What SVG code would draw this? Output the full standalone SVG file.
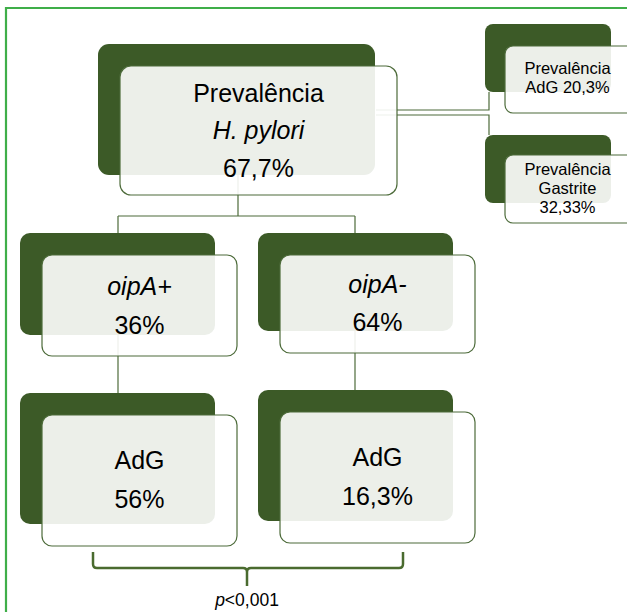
<svg xmlns="http://www.w3.org/2000/svg" width="627" height="612" viewBox="0 0 627 612">
<style>
.dark{fill:#3c5a27}
.light{fill:#ffffff;fill-opacity:0.9;stroke:#4d6b3a;stroke-width:1.2}
.conn{fill:none;stroke:#4d6b3a;stroke-width:1.2}
.t{font-family:"Liberation Sans",Arial,sans-serif;fill:#000;text-anchor:middle}
.big{font-size:25px}
.small{font-size:16.5px}
.it{font-style:italic}
</style>
<rect width="627" height="612" fill="#ffffff"/>
<path d="M6 612 V8 H627" fill="none" stroke="#3fae49" stroke-width="2.2"/>
<g id="connectors">
<path class="conn" d="M238 175 V216 M118 216 H355 M118 216 V233 M355 216 V233"/>
<path class="conn" d="M376 110 H489 V92"/>
<path class="conn" d="M376 115 H489 V135"/>
<path class="conn" d="M118 335 V393"/>
<path class="conn" d="M355 331 V390"/>
<path d="M93 552 V564 Q93 568 97 568 H243 Q247 568 247 572 V586 M247 572 Q247 568 251 568 H399 Q403 568 403 564 V552" fill="none" stroke="#4a6b2f" stroke-width="2.5"/>
</g>
<g id="node-main">
<rect class="dark" x="98" y="44" width="277" height="131" rx="11"/>
<rect class="light" x="120" y="66" width="277" height="129" rx="11"/>
<text class="t big" x="258.5" y="102">Prevalência</text>
<text class="t big it" x="258.5" y="139">H. pylori</text>
<text class="t big" x="258.5" y="177">67,7%</text>
</g>
<g id="node-adg-prev">
<rect class="dark" x="485" y="24" width="126" height="68" rx="8"/>
<rect class="light" x="505" y="46" width="130" height="67" rx="8"/>
<text class="t small" x="567.5" y="74">Prevalência</text>
<text class="t small" x="567.5" y="93">AdG 20,3%</text>
</g>
<g id="node-gastrite">
<rect class="dark" x="485" y="135" width="126" height="68" rx="8"/>
<rect class="light" x="505" y="155" width="130" height="68" rx="8"/>
<text class="t small" x="567.5" y="175">Prevalência</text>
<text class="t small" x="567.5" y="194">Gastrite</text>
<text class="t small" x="567.5" y="213">32,33%</text>
</g>
<g id="node-oipa-pos">
<rect class="dark" x="20" y="233" width="195" height="102" rx="10"/>
<rect class="light" x="42" y="255" width="195" height="101" rx="10"/>
<text class="t big it" x="139.5" y="295">oipA+</text>
<text class="t big" x="139.5" y="334">36%</text>
</g>
<g id="node-oipa-neg">
<rect class="dark" x="258" y="233" width="195" height="98" rx="10"/>
<rect class="light" x="280" y="255" width="195" height="98" rx="10"/>
<text class="t big it" x="377.5" y="293">oipA-</text>
<text class="t big" x="377.5" y="331">64%</text>
</g>
<g id="node-adg-pos">
<rect class="dark" x="20" y="393" width="195" height="131" rx="10"/>
<rect class="light" x="42" y="415" width="195" height="131" rx="10"/>
<text class="t big" x="139.5" y="469">AdG</text>
<text class="t big" x="139.5" y="508">56%</text>
</g>
<g id="node-adg-neg">
<rect class="dark" x="258" y="390" width="195" height="131" rx="10"/>
<rect class="light" x="280" y="412" width="195" height="131" rx="10"/>
<text class="t big" x="377.5" y="466">AdG</text>
<text class="t big" x="377.5" y="505">16,3%</text>
</g>
<text class="t" x="247" y="606" font-size="17.5"><tspan font-style="italic">p</tspan>&lt;0,001</text>
</svg>
